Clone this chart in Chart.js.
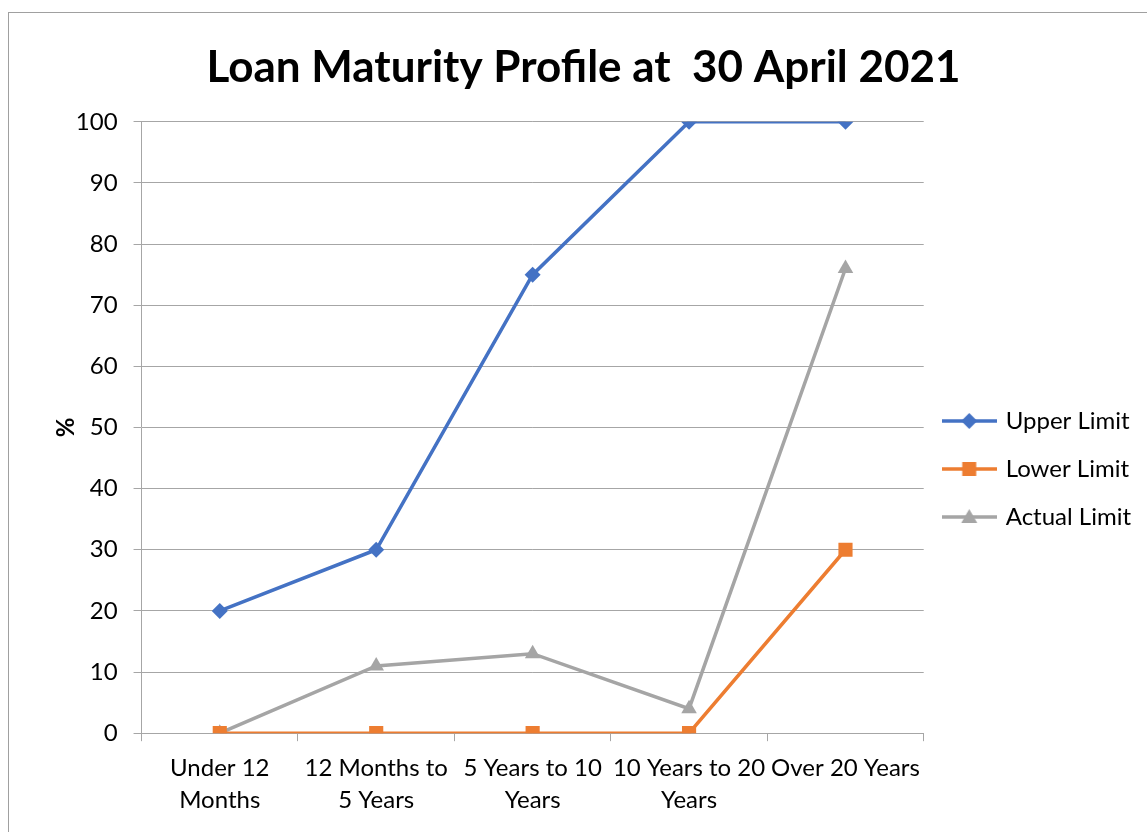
<!DOCTYPE html>
<html>
<head>
<meta charset="utf-8">
<script src="https://cdn.jsdelivr.net/npm/chart.js@4"></script>
<style>
  html, body { margin: 0; padding: 0; background: #fff; overflow: hidden; }
  #frame { position: absolute; left: 8px; top: 12px; width: 1200px; height: 900px; border: 1px solid #a0a0a0; }
  #wrap { position: absolute; left: 0; top: 0; width: 1138px; height: 819px; }
</style>
</head>
<body>
<div id="frame"><div id="wrap"><canvas id="maturityChart"></canvas></div></div>
<script>
// chart values
const categories = [['Under 12', 'Months'], ['12 Months to', '5 Years'], ['5 Years to 10', 'Years'], ['10 Years to 20', 'Years'], 'Over 20 Years'];
const upperLimit = [20, 30, 75, 100, 100];
const lowerLimit = [0, 0, 0, 0, 30];
const actualLimit = [0, 11, 13, 4, 76];
const yTicks = [0, 10, 20, 30, 40, 50, 60, 70, 80, 90, 100];

const FONT = 'Lato, "Open Sans", sans-serif';

// legend icon: short line with the marker in the middle
function legendIcon(color, style) {
    const c = document.createElement('canvas');
    c.width = 55; c.height = 20;
    const g = c.getContext('2d');
    g.strokeStyle = color; g.fillStyle = color; g.lineWidth = 3.5;
    g.beginPath(); g.moveTo(0, 10); g.lineTo(55, 10); g.stroke();
    g.beginPath();
    if (style === 'diamond') {
        g.moveTo(27.5, 2); g.lineTo(35.5, 10); g.lineTo(27.5, 18); g.lineTo(19.5, 10);
    } else if (style === 'square') {
        g.rect(20.5, 3, 14, 14);
    } else {
        g.moveTo(27.5, 2); g.lineTo(35.5, 16); g.lineTo(19.5, 16);
    }
    g.closePath(); g.fill();
    return c;
}

const series = [
    { label: 'Upper Limit', data: upperLimit, color: '#4472C4', point: 'rectRot', radius: 8, icon: 'diamond' },
    { label: 'Lower Limit', data: lowerLimit, color: '#ED7D31', point: 'rect', radius: 10, icon: 'square' },
    { label: 'Actual Limit', data: actualLimit, color: '#A5A5A5', point: 'triangle', radius: 9, icon: 'triangle' }
];

// nudge title and legend into the spots Excel puts them
const boxShift = {
    id: 'boxShift',
    afterLayout(chart) {
        const lg = chart.legend;
        lg.left -= 3; lg.right -= 3;
        lg.top += 49; lg.bottom += 49;
        const tb = chart.titleBlock;
        tb.left -= 4; tb.right -= 4;
    }
};

const ctx = document.getElementById('maturityChart').getContext('2d');
new Chart(ctx, {
    type: 'line',
    data: {
        labels: categories,
        datasets: series.map(s => ({
            label: s.label,
            data: s.data,
            borderColor: s.color,
            backgroundColor: s.color,
            borderWidth: 3.5,
            pointStyle: s.point,
            pointRadius: s.radius,
            pointBorderWidth: 0,
            tension: 0
        }))
    },
    plugins: [boxShift],
    options: {
        responsive: true,
        maintainAspectRatio: false,
        animation: false,
        layout: { padding: { left: 22, right: 3, top: 0, bottom: 5 } },
        plugins: {
            title: {
                display: true,
                text: 'Loan Maturity Profile at  30 April 2021',
                color: '#000',
                font: { family: FONT, size: 44, weight: 'bold' },
                padding: { top: 28, bottom: 28 }
            },
            legend: {
                position: 'right',
                labels: {
                    color: '#000',
                    font: { family: FONT, size: 24 },
                    usePointStyle: true,
                    pointStyleWidth: 49,
                    boxHeight: 20,
                    padding: 24,
                    generateLabels: chart => series.map((s, i) => ({
                        text: s.label,
                        datasetIndex: i,
                        pointStyle: legendIcon(s.color, s.icon),
                        fillStyle: s.color,
                        strokeStyle: s.color,
                        lineWidth: 0,
                        hidden: false
                    }))
                }
            },
            tooltip: { enabled: false }
        },
        scales: {
            x: {
                offset: true,
                grid: { offset: true, drawOnChartArea: false, color: '#a6a6a6', tickLength: 8 },
                border: { color: '#a6a6a6', width: 1 },
                ticks: { color: '#000', font: { family: FONT, size: 24, lineHeight: 1.33 }, maxRotation: 0, autoSkip: false, padding: 11 }
            },
            y: {
                min: 0,
                max: 100,
                afterBuildTicks: axis => { axis.ticks = yTicks.map(v => ({ value: v })); },
                grid: { color: '#a6a6a6', tickLength: 8 },
                border: { color: '#a6a6a6', width: 1 },
                ticks: { color: '#000', font: { family: FONT, size: 24 }, padding: 16 },
                title: { display: true, text: '%', color: '#000', font: { family: FONT, size: 24, weight: 'bold' }, padding: { top: 21, bottom: -21 } }
            }
        }
    }
});
</script>
</body>
</html>
